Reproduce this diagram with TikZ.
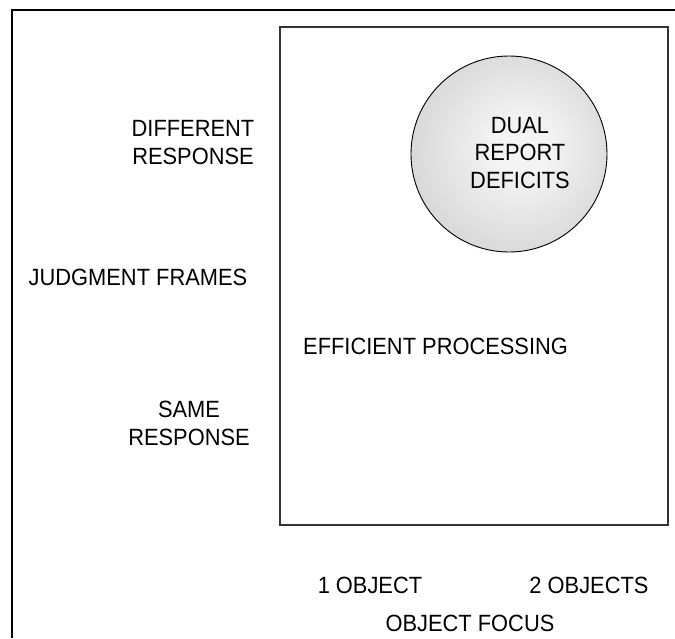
\documentclass[tikz,border=0pt]{standalone}
\usepackage{fontspec}
\setmainfont{Liberation Sans}[FakeStretch=0.93]
\pgfdeclareradialshading{dualshade}{\pgfpoint{4bp}{2bp}}{%
  color(0bp)=(gray!8); color(8bp)=(gray!10); color(50bp)=(gray!55)}
\tikzset{
  lbl/.style={font=\fontsize{23.5}{27.5}\selectfont, align=center, inner sep=0pt},
  frameline/.style={line width=2pt, black},
  plotbox/.style={draw=black!80, line width=1.6pt},
  region/.style={circle, draw=black, line width=0.9pt, shading=dualshade,
    minimum size=196pt, inner sep=0pt}
}
\begin{document}
\begin{tikzpicture}[x=1pt, y=-1pt]
  \useasboundingbox (0,0) rectangle (675,638);
  % outer frame: top and left edges only
  \coordinate (tl) at (12,10);
  \coordinate (tr) at (675,10);
  \coordinate (bl) at (12,638);
  \draw[frameline] (tr) -- (tl) -- (bl);
  % plotting area
  \node[plotbox, minimum width=388pt, minimum height=498pt, inner sep=0pt,
        anchor=north west] (box) at (279,26) {};
  % circled region (base anchor sits on the last line)
  \node[region] (dual) at (509,154) {};
  \node[lbl, anchor=base] (dualtxt) at (520,188) {DUAL\\REPORT\\DEFICITS};
  % vertical axis labels
  \node[lbl, anchor=base] (diff) at (193,164) {DIFFERENT\\RESPONSE};
  \node[lbl, anchor=base] (judg) at (138,285) {JUDGMENT FRAMES};
  \node[lbl, anchor=base] (same) at (189,445) {SAME\\RESPONSE};
  % inner label
  \node[lbl, anchor=base west] (eff) at (303,354) {EFFICIENT PROCESSING};
  % horizontal axis labels
  \node[lbl, anchor=base] (one) at (370,593) {1 OBJECT};
  \node[lbl, anchor=base] (two) at (589,593) {2 OBJECTS};
  \node[lbl, anchor=base] (focus) at (470,631) {OBJECT FOCUS};
\end{tikzpicture}
\end{document}
